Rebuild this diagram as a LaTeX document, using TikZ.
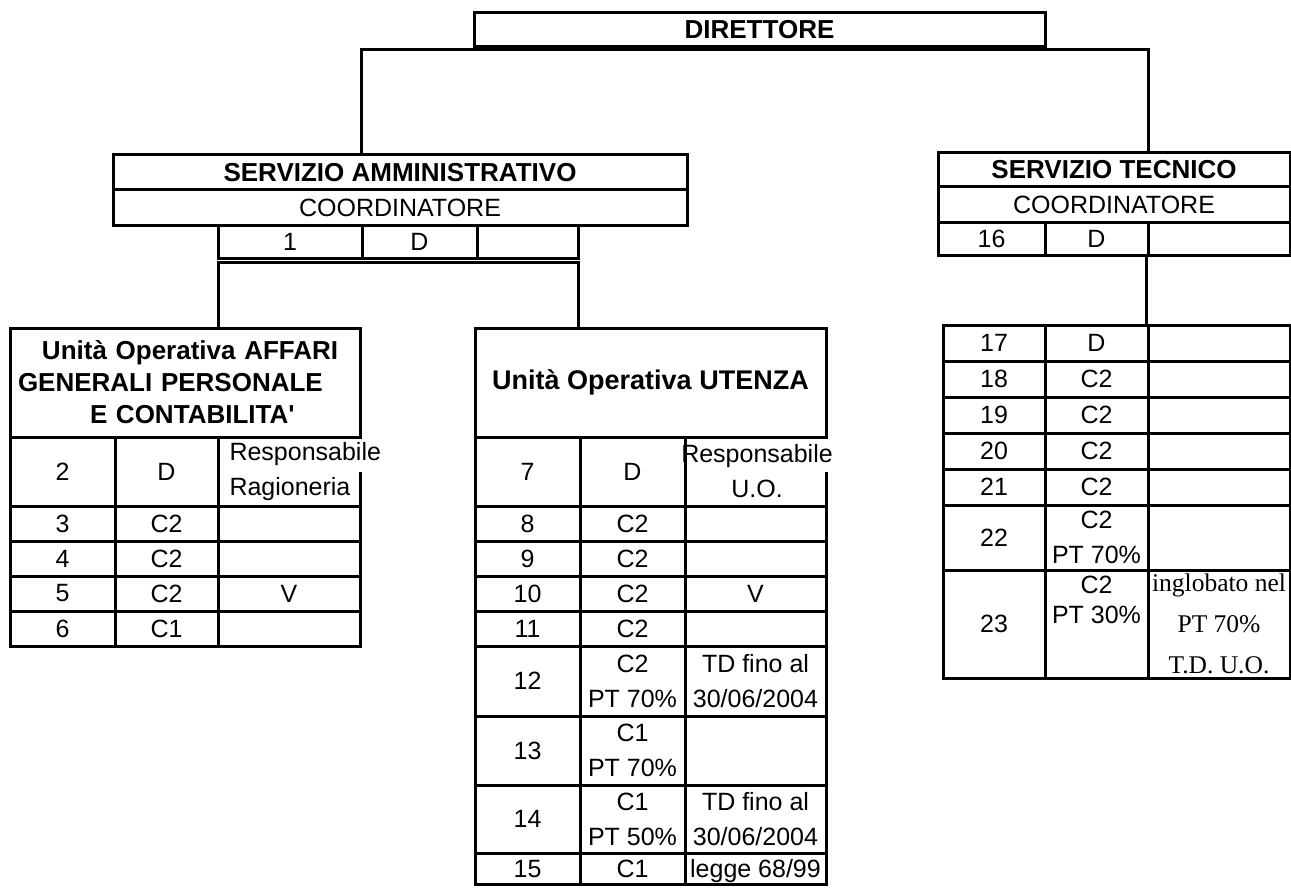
\documentclass[tikz,border=0pt]{standalone}
\usepackage{fontspec}
\setmainfont{Liberation Sans}
\newfontfamily\tnr{Liberation Serif}
\begin{document}
\begin{tikzpicture}[x=1pt,y=-1pt,line width=3pt,
        every node/.style={inner sep=0pt,align=center,font=\fontsize{25}{35}\selectfont},
        hd/.style={font=\fontsize{26}{32}\selectfont\bfseries},
        box/.style={draw,minimum height=35pt}]
    \useasboundingbox (0,0) rectangle (1291,888);

    % direttore e servizi
    \node[box,hd,minimum width=571pt,minimum height=34pt] (dir) at (759.5,30) {DIRETTORE};
    \node[box,hd,minimum width=574pt] (sa) at (400,172.5) {SERVIZIO AMMINISTRATIVO};
    \node[box,minimum width=574pt] (sac) at (400,207.5) {COORDINATORE};
    \node[box,minimum width=144pt,minimum height=33pt] (s1) at (290,241.5) {1};
    \node[box,minimum width=115pt,minimum height=33pt] (s1d) at (419.5,241.5) {D};
    \node[box,minimum width=101pt,minimum height=33pt] (s1e) at (527.5,241.5) {};
    \node[box,hd,minimum width=352pt,minimum height=34pt] (st) at (1114,170) {SERVIZIO TECNICO};
    \node[box,minimum width=352pt] (stc) at (1114,204.5) {COORDINATORE};
    \node[box,minimum width=107pt,minimum height=33pt] (t16) at (991.5,238.5) {16};
    \node[box,minimum width=103pt,minimum height=33pt] (t16d) at (1096.5,238.5) {D};
    \node[box,minimum width=142pt,minimum height=33pt] (t16e) at (1219,238.5) {};

    \coordinate (ja) at (361,50);
    \coordinate (jb) at (1148,50);
    \draw (sa.north -| ja) -- (ja) -- (jb) -- (st.north -| jb);

    % unita operative
    \node[box,hd,minimum width=350pt,minimum height=109pt,text width=334pt,align=left] (ua) at (185,382.5)
        {\hspace*{24pt}Unità Operativa AFFARI\\GENERALI PERSONALE\\\hspace*{72pt}E CONTABILITA\textquotesingle};
    \node[box,font=\fontsize{27}{32}\selectfont\bfseries,minimum width=351pt,minimum height=109pt] (ub) at (650.5,382.5) {Unità Operativa UTENZA};
    \node[draw,minimum width=347pt,minimum height=353pt] (tt) at (1116.5,501.5) {};

    \coordinate (ka) at (218,262);
    \coordinate (kb) at (578,262);
    \draw (ua.north -| ka) -- (ka) -- (kb) -- (ub.north -| kb);
    \draw (t16e.south west) -- (t16e.south west |- tt.north);

    % tabella affari generali
    \draw (10,437) -- (10,646) -- (360,646) -- (360,472);
    \foreach \y in {506,541,576,611} \draw (10,\y) -- (360,\y);
    \foreach \x in {115,218} \draw (\x,437) -- (\x,646);
    \node (a2) at (62.5,471.5) {2} node (b2) at (166.5,471.5) {D};
    \node[anchor=west,align=left] (c2) at (228,471.5) {Responsabile\\Ragioneria};
    \foreach \n/\g/\v [count=\k] in {3/C2/,4/C2/,5/C2/V,6/C1/}
        \node (a\n) at (62.5,488.5+35*\k) {\n} node (b\n) at (166.5,488.5+35*\k) {\g}
            node (c\n) at (289,488.5+35*\k) {\v};

    % tabella utenza
    \draw (475,437) -- (475,884) -- (826,884) -- (826,472);
    \foreach \y in {506,541,576,611,646,716,785,853} \draw (475,\y) -- (826,\y);
    \foreach \x in {580,685} \draw (\x,437) -- (\x,884);
    \node (a7) at (527.5,471.5) {7} node (b7) at (632.5,471.5) {D}
        node (c7) at (757,471.5) {Responsabile\\U.O.};
    \foreach \n/\g/\v [count=\k] in {8/C2/,9/C2/,10/C2/V,11/C2/}
        \node (a\n) at (527.5,488.5+35*\k) {\n} node (b\n) at (632.5,488.5+35*\k) {\g}
            node (c\n) at (755.5,488.5+35*\k) {\v};
    \node (a12) at (527.5,681) {12} node (b12) at (632.5,681) {C2\\PT 70\%}
        node (c12) at (755.5,681) {TD fino al\\30/06/2004};
    \node (a13) at (527.5,750.5) {13} node (b13) at (632.5,750.5) {C1\\PT 70\%};
    \node (a14) at (527.5,819) {14} node (b14) at (632.5,819) {C1\\PT 50\%}
        node (c14) at (755.5,819) {TD fino al\\30/06/2004};
    \node[anchor=base] (a15) at (527.5,877) {15} node[anchor=base] (b15) at (632.5,877) {C1}
        node[anchor=base] (c15) at (755.5,877) {legge 68/99};

    % tabella tecnico
    \foreach \y in {361,397,433,469,505,570} \draw (943,\y) -- (1290,\y);
    \foreach \x in {1045,1148} \draw (\x,325) -- (\x,678);
    \foreach \n/\g [count=\k] in {17/D,18/C2,19/C2,20/C2,21/C2}
        \node (a\n) at (994,307+36*\k) {\n} node (b\n) at (1096.5,307+36*\k) {\g};
    \node (a22) at (994,537.5) {22} node (b22) at (1096.5,537.5) {C2\\PT 70\%};
    \node (a23) at (994,624) {23} node[font=\fontsize{25}{30}\selectfont] (b23) at (1096.5,600) {C2\\PT 30\%};
    \node[font=\tnr\fontsize{25.5}{41}\selectfont] (c23) at (1219,624) {inglobato nel\\PT 70\%\\T.D. U.O.};
\end{tikzpicture}
\end{document}
